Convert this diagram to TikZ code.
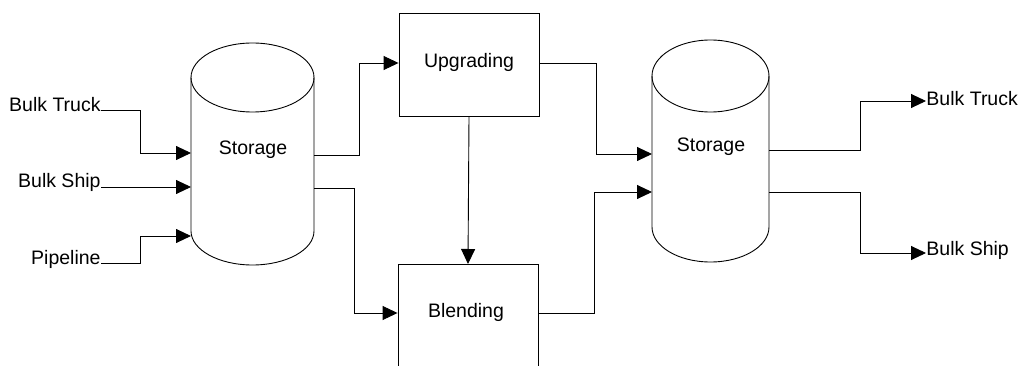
\documentclass[tikz,border=0pt]{standalone}
\usepackage{fontspec}
\setmainfont{Liberation Sans}
\usetikzlibrary{arrows.meta}
\begin{document}
\begin{tikzpicture}[x=1pt,y=-1pt,
  line width=0.9pt,
  lbl/.style={inner sep=0pt,font=\fontsize{19.5}{23}\selectfont},
  box/.style={draw,minimum width=140pt,minimum height=103pt,inner sep=0pt},
  flow/.style={-{Triangle[length=15pt,width=14pt]}},
  plain/.style={-}]
\useasboundingbox (0,0) rectangle (1023,366);
\clip (0,0) rectangle (1023,366);
% left storage cylinder
\draw (191,77.5) -- (191,231) arc[start angle=180,end angle=360,x radius=61.5,y radius=-34] -- (314,77.5);
\draw (252.5,77.5) ellipse[x radius=61.5,y radius=34.5];
\node[lbl] (st1) at (253,150) {Storage};
% right storage cylinder
\draw (652,76) -- (652,227) arc[start angle=180,end angle=360,x radius=58.5,y radius=-35] -- (769,76);
\draw (710.5,76) ellipse[x radius=58.5,y radius=36];
\node[lbl] (st2) at (711,147) {Storage};
% boxes
\node[box] (upg) at (469,64.5) {};
\node[lbl] (upgt) at (469,62) {Upgrading};
\node[box,minimum height=120pt,anchor=north] (bld) at (468,264) {};
\node[lbl] (bldt) at (466,312) {Blending};
% inputs
\node[lbl,anchor=east] (in1) at (101,105) {Bulk Truck};
\node[lbl,anchor=east] (in2) at (101,182.5) {Bulk Ship};
\node[lbl,anchor=east] (in3) at (101,259) {Pipeline};
% outputs
\node[lbl,anchor=west] (out1) at (926,99) {Bulk Truck};
\node[lbl,anchor=west] (out2) at (926,250) {Bulk Ship};
% connector end coordinates
\coordinate (s1a) at (191,153);
\coordinate (s1b) at (191,187);
\coordinate (s1c) at (191,236);
\coordinate (s1o1) at (314,155);
\coordinate (s1o2) at (314,188);
\coordinate (s2a) at (652,154);
\coordinate (s2b) at (652,192);
\coordinate (s2o1) at (769,150);
\coordinate (s2o2) at (769,192);
% input connectors
\draw[flow] (in1.east |- 0,110) -- (140,110) -- (140,153) -- (s1a);
\draw[flow] (in2.east |- 0,187) -- (s1b);
\draw[flow] (in3.east |- 0,263) -- (140,263) -- (140,236) -- (s1c);
% storage 1 -> boxes
\draw[flow] (s1o1) -- (359,155) -- (359,63) -- (upg.west |- 0,63);
\draw[flow] (s1o2) -- (354,188) -- (354,313) -- (bld.west |- 0,313);
\draw[flow] (upg.south) -- (bld.north);
% boxes -> storage 2
\draw[flow] (upg.east |- 0,63) -- (596,63) -- (596,154) -- (s2a);
\draw[flow] (bld.east |- 0,313) -- (594,313) -- (594,192) -- (s2b);
% outputs
\draw[flow] (s2o1) -- (860,150) -- (860,101) -- (out1.west |- 0,101);
\draw[flow] (s2o2) -- (860,192) -- (860,253) -- (out2.west |- 0,253);
\end{tikzpicture}
\end{document}
